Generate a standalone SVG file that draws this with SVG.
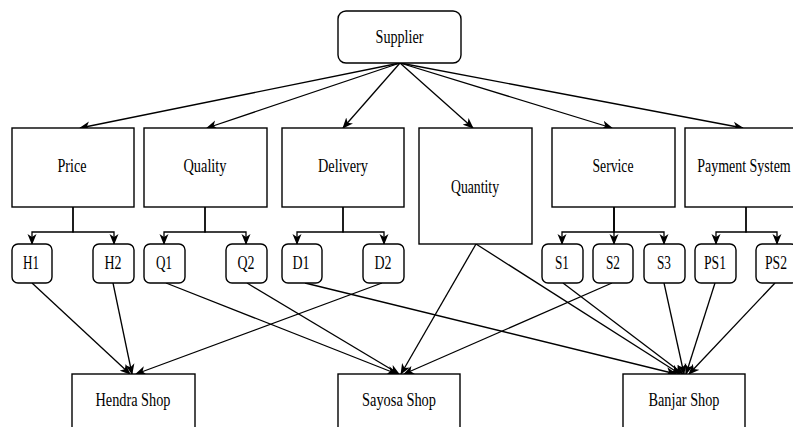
<svg xmlns="http://www.w3.org/2000/svg" width="793" height="427" viewBox="0 0 793 427">
<style>
.b{fill:#fff;stroke:#000;stroke-width:1.4}
.t{font-family:'Liberation Serif','Times New Roman',serif;font-size:18px;fill:#000;text-anchor:middle}
.c{fill:none;stroke:#000;stroke-width:1.3;marker-end:url(#a)}
</style>
<defs>
<marker id="a" markerUnits="userSpaceOnUse" markerWidth="12" markerHeight="10" refX="10" refY="4.5" orient="auto" viewBox="0 0 12 9">
<path d="M0,0 L11,4.5 L0,9 L3,4.5 z" fill="#000"/>
</marker>
</defs>
<rect width="793" height="427" fill="#fff"/>
<g id="connectors">
<path class="c" d="M400,63 L80,128"/>
<path class="c" d="M400,63 L207,128"/>
<path class="c" d="M400,63 L343,128"/>
<path class="c" d="M400,63 L473,128"/>
<path class="c" d="M400,63 L612,128"/>
<path class="c" d="M400,63 L743,128"/>
<path class="c" d="M73,207 V232 H32 V244"/>
<path class="c" d="M73,207 V232 H114 V244"/>
<path class="c" d="M205,207 V232 H164 V244"/>
<path class="c" d="M205,207 V232 H246 V244"/>
<path class="c" d="M343,207 V232 H297 V244"/>
<path class="c" d="M343,207 V232 H384 V244"/>
<path class="c" d="M614,207 V232 H562 V244"/>
<path class="c" d="M614,207 V244"/>
<path class="c" d="M614,207 V232 H664 V244"/>
<path class="c" d="M746,207 V232 H716 V244"/>
<path class="c" d="M746,207 V232 H777 V244"/>
<path class="c" d="M32,283 L130,374"/>
<path class="c" d="M113,283 L132,374"/>
<path class="c" d="M382,283 L136,374"/>
<path class="c" d="M166,283 L397,374"/>
<path class="c" d="M247,283 L399,374"/>
<path class="c" d="M476,244 L401,374"/>
<path class="c" d="M612,283 L404,374"/>
<path class="c" d="M305,283 L676,374"/>
<path class="c" d="M476,244 L680,374"/>
<path class="c" d="M563,283 L683,374"/>
<path class="c" d="M664,283 L684,374"/>
<path class="c" d="M715,283 L686,374"/>
<path class="c" d="M775,283 L689,374"/>
</g>
<g id="supplier"><rect class="b" x="338" y="11" width="123" height="52" rx="8"/><text class="t" x="399.5" y="43" textLength="48" lengthAdjust="spacingAndGlyphs">Supplier</text></g>
<g id="price"><rect class="b" x="12" y="128" width="122" height="79"/><text class="t" x="72" y="172" textLength="29" lengthAdjust="spacingAndGlyphs">Price</text></g>
<g id="quality"><rect class="b" x="144" y="128" width="123" height="79"/><text class="t" x="205" y="172" textLength="43" lengthAdjust="spacingAndGlyphs">Quality</text></g>
<g id="delivery"><rect class="b" x="282" y="128" width="122" height="79"/><text class="t" x="343" y="172" textLength="50" lengthAdjust="spacingAndGlyphs">Delivery</text></g>
<g id="quantity"><rect class="b" x="419" y="128" width="113" height="116"/><text class="t" x="475" y="193" textLength="48" lengthAdjust="spacingAndGlyphs">Quantity</text></g>
<g id="service"><rect class="b" x="552" y="128" width="123" height="79"/><text class="t" x="613" y="172" textLength="41" lengthAdjust="spacingAndGlyphs">Service</text></g>
<g id="payment"><rect class="b" x="685" y="128" width="122" height="79"/><text class="t" transform="translate(744,172) scale(0.775,1)" x="0" y="0">Payment System</text></g>
<g id="h1"><rect class="b" x="12" y="244" width="40" height="39" rx="6"/><text class="t" x="31" y="269" textLength="16" lengthAdjust="spacingAndGlyphs">H1</text></g>
<g id="h2"><rect class="b" x="93" y="244" width="41" height="39" rx="6"/><text class="t" x="113" y="269" textLength="17" lengthAdjust="spacingAndGlyphs">H2</text></g>
<g id="q1"><rect class="b" x="144" y="244" width="41" height="39" rx="6"/><text class="t" x="164" y="269" textLength="16" lengthAdjust="spacingAndGlyphs">Q1</text></g>
<g id="q2"><rect class="b" x="226" y="244" width="41" height="39" rx="6"/><text class="t" x="246" y="269" textLength="17" lengthAdjust="spacingAndGlyphs">Q2</text></g>
<g id="d1"><rect class="b" x="282" y="244" width="40" height="39" rx="6"/><text class="t" x="301" y="269" textLength="17" lengthAdjust="spacingAndGlyphs">D1</text></g>
<g id="d2"><rect class="b" x="363" y="244" width="41" height="39" rx="6"/><text class="t" x="383" y="269" textLength="17" lengthAdjust="spacingAndGlyphs">D2</text></g>
<g id="s1"><rect class="b" x="542" y="244" width="41" height="39" rx="6"/><text class="t" x="562" y="269" textLength="14" lengthAdjust="spacingAndGlyphs">S1</text></g>
<g id="s2"><rect class="b" x="593" y="244" width="40" height="39" rx="6"/><text class="t" x="613" y="269" textLength="14" lengthAdjust="spacingAndGlyphs">S2</text></g>
<g id="s3"><rect class="b" x="644" y="244" width="41" height="39" rx="6"/><text class="t" x="664" y="269" textLength="14" lengthAdjust="spacingAndGlyphs">S3</text></g>
<g id="ps1"><rect class="b" x="695" y="244" width="41" height="39" rx="6"/><text class="t" x="715" y="269" textLength="22" lengthAdjust="spacingAndGlyphs">PS1</text></g>
<g id="ps2"><rect class="b" x="756" y="244" width="41" height="39" rx="6"/><text class="t" x="776" y="269" textLength="22" lengthAdjust="spacingAndGlyphs">PS2</text></g>
<g id="hendra"><rect class="b" x="72" y="374" width="123" height="56"/><text class="t" x="133" y="406" textLength="75" lengthAdjust="spacingAndGlyphs">Hendra Shop</text></g>
<g id="sayosa"><rect class="b" x="338" y="374" width="122" height="56"/><text class="t" x="399" y="406" textLength="74" lengthAdjust="spacingAndGlyphs">Sayosa Shop</text></g>
<g id="banjar"><rect class="b" x="623" y="374" width="122" height="56"/><text class="t" x="684" y="406" textLength="71" lengthAdjust="spacingAndGlyphs">Banjar Shop</text></g>
</svg>
